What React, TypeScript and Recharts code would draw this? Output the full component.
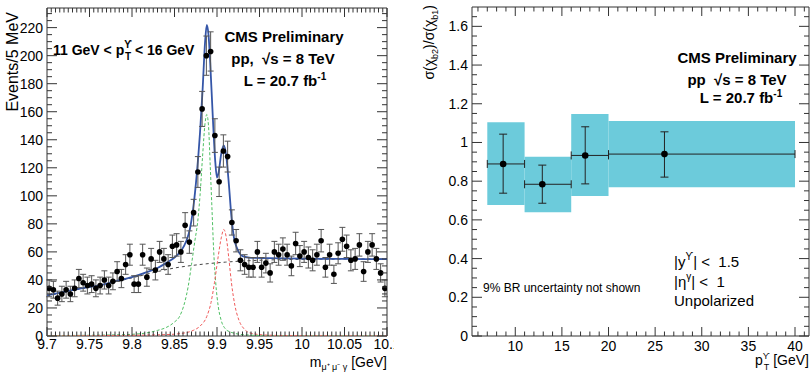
import { ComposedChart, ErrorBar, Line, ReferenceArea, Scatter, XAxis, YAxis } from 'recharts';

// ---- left panel: m(mu mu gamma) spectrum, 5 MeV bins ----
const massBins = [
  9.7025, 9.7075, 9.7125, 9.7175, 9.7225, 9.7275, 9.7325, 9.7375, 9.7425, 9.7475,
  9.7525, 9.7575, 9.7625, 9.7675, 9.7725, 9.7775, 9.7825, 9.7875, 9.7925, 9.7975,
  9.8025, 9.8075, 9.8125, 9.8175, 9.8225, 9.8275, 9.8325, 9.8375, 9.8425, 9.8475,
  9.8525, 9.8575, 9.8625, 9.8675, 9.8725, 9.8775, 9.8825, 9.8875, 9.8925, 9.8975,
  9.9025, 9.9075, 9.9125, 9.9175, 9.9225, 9.9275, 9.9325, 9.9375, 9.9425, 9.9475,
  9.9525, 9.9575, 9.9625, 9.9675, 9.9725, 9.9775, 9.9825, 9.9875, 9.9925, 9.9975,
  10.0025, 10.0075, 10.0125, 10.0175, 10.0225, 10.0275, 10.0325, 10.0375, 10.0425, 10.0475,
  10.0525, 10.0575, 10.0625, 10.0675, 10.0725, 10.0775, 10.0825, 10.0875, 10.0925, 10.0975,
];
const events = [
  34, 33, 27, 30, 33, 30, 34, 41, 38, 36,
  37, 34, 36, 40, 36, 39, 46, 41, 51, 58,
  37, 37, 58, 42, 55, 47, 60, 55, 51, 64,
  65, 60, 79, 67, 88, 117, 162, 200, 203, 143,
  110, 132, 128, 81, 68, 54, 51, 49, 49, 60,
  49, 52, 45, 60, 58, 62, 58, 50, 66, 57,
  60, 56, 54, 58, 68, 49, 58, 44, 59, 69,
  64, 54, 55, 65, 46, 60, 65, 55, 45, 34,
];
const eventsErr = [
  6, 6, 5, 5.5, 6, 5.5, 6, 6.5, 6, 6,
  6, 6, 6, 6.5, 6, 6, 7, 6.5, 7, 7.5,
  6, 6, 7.5, 6.5, 7.5, 7, 7.5, 7.5, 7, 8,
  8, 7.5, 9, 8, 9.5, 11, 12.5, 14, 14, 12,
  10.5, 11.5, 11, 9, 8, 7.5, 7, 7, 7, 7.5,
  7, 7, 6.5, 7.5, 7.5, 8, 7.5, 7, 8, 7.5,
  7.5, 7.5, 7.5, 7.5, 8, 7, 7.5, 6.5, 7.5, 8.5,
  8, 7.5, 7.5, 8, 7, 7.5, 8, 7.5, 6.5, 6,
];

// fit curves
const totalX = [9.7, 9.72, 9.74, 9.76, 9.78, 9.8, 9.815, 9.83, 9.84, 9.85, 9.858, 9.864, 9.868, 9.872, 9.876, 9.88, 9.883, 9.886, 9.888, 9.89, 9.892, 9.895, 9.898, 9.9, 9.902, 9.905, 9.908, 9.911, 9.914, 9.917, 9.92, 9.924, 9.93, 9.94, 9.96, 10.0, 10.05, 10.1];
const totalY = [29, 31.5, 34, 36, 39, 42, 45, 48.5, 52, 56, 61, 68, 76, 91, 114, 145, 175, 210, 222, 215, 195, 157, 124, 113, 117, 130, 136, 128, 108, 85, 70, 62, 57, 55.8, 55.5, 55.2, 55, 54.8];
const chib1X = [9.7, 9.78, 9.8, 9.82, 9.83, 9.84, 9.85, 9.856, 9.862, 9.866, 9.87, 9.874, 9.877, 9.88, 9.883, 9.886, 9.888, 9.89, 9.892, 9.894, 9.896, 9.8985, 9.9015, 9.905, 9.91, 9.915, 9.92, 9.93, 9.95, 10.0, 10.1];
const chib1Y = [0.3, 0.8, 1.2, 2.5, 4, 6, 10, 14, 24, 35, 51, 68, 80, 100, 128, 152, 158, 150, 122, 92, 62, 38, 21, 11, 5, 3, 2, 1, 0.4, 0.1, 0];
const chib2X = [9.7, 9.8, 9.84, 9.86, 9.872, 9.88, 9.888, 9.893, 9.897, 9.901, 9.905, 9.908, 9.911, 9.914, 9.917, 9.921, 9.926, 9.932, 9.94, 9.96, 10.0, 10.1];
const chib2Y = [0, 0.5, 1, 2, 4, 7, 14, 24, 38, 55, 70, 76, 70, 55, 38, 22, 11, 5, 2, 0.6, 0.2, 0];
const bkgX = [9.7, 9.73, 9.76, 9.79, 9.82, 9.85, 9.88, 9.91, 9.94, 9.98, 10.03, 10.1];
const bkgY = [28.5, 32.5, 36, 40, 44.5, 48.5, 51, 52.7, 53.8, 54.5, 54.8, 55];

const leftXMajor = [9.7, 9.75, 9.8, 9.85, 9.9, 9.95, 10, 10.05, 10.1];
const leftYMajor = [0, 20, 40, 60, 80, 100, 120, 140, 160, 180, 200, 220];

// ---- right panel: sigma(chi_b2)/sigma(chi_b1) vs pT ----
const ptLow = [7, 11, 16, 20];
const ptHigh = [11, 16, 20, 40];
const ptMean = [8.7, 12.9, 17.5, 26.0];
const ratio = [0.889, 0.784, 0.933, 0.94];
const statDown = [0.151, 0.098, 0.147, 0.119];
const statUp = [0.154, 0.099, 0.148, 0.115];
const systLow = [0.677, 0.639, 0.724, 0.769];
const systHigh = [1.104, 0.926, 1.147, 1.111];

const rightXMajor = [10, 15, 20, 25, 30, 35, 40];
const rightYMajor = [0, 0.2, 0.4, 0.6, 0.8, 1, 1.2, 1.4, 1.6];

const FONT = '"Liberation Sans", Arial, Helvetica, sans-serif';
const INK = '#333';
const CYAN = '#6ccbdb';
const NB = '\u00a0';

function steps(from: number, to: number, step: number) {
  const out: number[] = [];
  const n = Math.round((to - from) / step);
  for (let i = 0; i <= n; i++) out.push(Math.round((from + i * step) * 1e6) / 1e6);
  return out;
}

const isMajor = (majors: number[], v: number) => majors.some((m) => Math.abs(m - v) < 1e-7);

function xTick(majors: number[], plotH: number, dy: number) {
  return (p: any) => {
    const v = p.payload.value as number;
    const big = isMajor(majors, v);
    const len = big ? 9 : 4.5;
    return (
      <g>
        <line x1={p.x} x2={p.x} y1={p.y} y2={p.y - len} stroke={INK} />
        <line x1={p.x} x2={p.x} y1={p.y - plotH} y2={p.y - plotH + len} stroke={INK} />
        {big && (
          <text x={p.x} y={p.y + dy} textAnchor="middle" fontSize={14} fontFamily={FONT} fill="#000">
            {String(v)}
          </text>
        )}
      </g>
    );
  };
}

function yTick(majors: number[], plotW: number) {
  return (p: any) => {
    const v = p.payload.value as number;
    const big = isMajor(majors, v);
    const len = big ? 10 : 5;
    return (
      <g>
        <line x1={p.x} x2={p.x + len} y1={p.y} y2={p.y} stroke={INK} />
        <line x1={p.x + plotW} x2={p.x + plotW - len} y1={p.y} y2={p.y} stroke={INK} />
        {big && (
          <text x={p.x - 4} y={p.y + 5} textAnchor="end" fontSize={14} fontFamily={FONT} fill="#000">
            {String(v)}
          </text>
        )}
      </g>
    );
  };
}

const dot = (r: number) => (p: any) => <circle cx={p.cx} cy={p.cy} r={r} fill="#000" />;

function MassPanel() {
  const points = massBins.map((x, i) => ({ x, y: events[i], err: eventsErr[i] }));
  const curve = (xs: number[], ys: number[]) => xs.map((x, i) => ({ x, y: ys[i] }));
  const xTicks = steps(9.7, 10.1, 0.005);
  const yTicks = steps(0, 230, 5);
  return (
    <ComposedChart width={400} height={373} margin={{ top: 8, right: 13, bottom: 0, left: 0 }}>
      <XAxis
        xAxisId="b"
        type="number"
        dataKey="x"
        domain={[9.7, 10.1]}
        allowDataOverflow
        ticks={xTicks}
        interval={0}
        height={37}
        tickSize={0}
        tickMargin={0}
        tickLine={false}
        axisLine={false}
        tick={xTick(leftXMajor, 328, 13)}
      />
      <YAxis
        yAxisId="l"
        type="number"
        domain={[0, 234]}
        allowDataOverflow
        ticks={yTicks}
        interval={0}
        width={47}
        tickSize={0}
        tickMargin={0}
        tickLine={false}
        axisLine={false}
        tick={yTick(leftYMajor, 340)}
      />
      <Line xAxisId="b" yAxisId="l" data={curve(bkgX, bkgY)} dataKey="y" type="monotone" stroke="#444" strokeWidth={1} strokeDasharray="3 3" dot={false} isAnimationActive={false} />
      <Line xAxisId="b" yAxisId="l" data={curve(chib1X, chib1Y)} dataKey="y" type="monotone" stroke="#4fbf63" strokeWidth={1} strokeDasharray="3 2" dot={false} isAnimationActive={false} />
      <Line xAxisId="b" yAxisId="l" data={curve(chib2X, chib2Y)} dataKey="y" type="monotone" stroke="#f05a5a" strokeWidth={1} strokeDasharray="3 2" dot={false} isAnimationActive={false} />
      <Line xAxisId="b" yAxisId="l" data={curve(totalX, totalY)} dataKey="y" type="monotone" stroke="#3556a8" strokeWidth={1.8} dot={false} isAnimationActive={false} />
      <Scatter xAxisId="b" yAxisId="l" data={points} dataKey="y" shape={dot(2.8)} isAnimationActive={false}>
        <ErrorBar dataKey="err" direction="y" width={3} stroke="#555" strokeWidth={1} />
      </Scatter>
      <ReferenceArea xAxisId="b" yAxisId="l" x1={9.7} x2={10.1} y1={0} y2={234} fill="none" stroke={INK} strokeWidth={1} ifOverflow="visible" />
    </ComposedChart>
  );
}

function RatioPanel() {
  const points = ptMean.map((x, i) => ({
    x,
    y: ratio[i],
    ey: [statDown[i], statUp[i]],
    ex: [x - ptLow[i], ptHigh[i] - x],
  }));
  const xTicks = steps(6, 41, 1);
  const yTicks = steps(0, 1.65, 0.05);
  return (
    <ComposedChart width={411} height={373} margin={{ top: 7, right: 2, bottom: 0, left: 0 }}>
      <XAxis
        xAxisId="b"
        type="number"
        dataKey="x"
        domain={[5.36, 41.5]}
        allowDataOverflow
        ticks={xTicks}
        interval={0}
        height={37}
        tickSize={0}
        tickMargin={0}
        tickLine={false}
        axisLine={false}
        tick={xTick(rightXMajor, 329, 15)}
      />
      <YAxis
        yAxisId="l"
        type="number"
        domain={[0, 1.7]}
        allowDataOverflow
        ticks={yTicks}
        interval={0}
        width={72}
        tickSize={0}
        tickMargin={0}
        tickLine={false}
        axisLine={false}
        tick={yTick(rightYMajor, 337)}
      />
      {ptLow.map((lo, i) => (
        <ReferenceArea key={i} xAxisId="b" yAxisId="l" x1={lo} x2={ptHigh[i]} y1={systLow[i]} y2={systHigh[i]} fill={CYAN} fillOpacity={1} stroke="none" />
      ))}
      <Scatter xAxisId="b" yAxisId="l" data={points} dataKey="y" shape={dot(3.3)} isAnimationActive={false}>
        <ErrorBar dataKey="ey" direction="y" width={4} stroke="#222" strokeWidth={1} />
        <ErrorBar dataKey="ex" direction="x" width={4} stroke="#222" strokeWidth={1} />
      </Scatter>
      <ReferenceArea xAxisId="b" yAxisId="l" x1={5.36} x2={41.5} y1={0} y2={1.7} fill="none" stroke={INK} strokeWidth={1} ifOverflow="visible" />
    </ComposedChart>
  );
}

function Labels() {
  const bold = { fontFamily: FONT, fontWeight: 700, fill: '#000' } as const;
  const reg = { fontFamily: FONT, fill: '#000' } as const;
  return (
    <svg width={811} height={373} style={{ position: 'absolute', left: 0, top: 0, pointerEvents: 'none' }}>
      {/* left panel */}
      <text transform="translate(18, 12) rotate(-90)" textAnchor="end" fontSize={16} {...reg}>Events/5 MeV</text>
      <text x={387} y={367} textAnchor="end" fontSize={14} {...reg}>
        m<tspan fontSize={9} dy={3}>μ⁺ μ⁻ γ</tspan><tspan dy={-3}> [GeV]</tspan>
      </text>
      <text x={53} y={55} fontSize={14} {...bold}>
        11 GeV &lt; p<tspan fontSize={10} dy={-7}>ϒ</tspan><tspan fontSize={10} dx={-7} dy={12}>T</tspan><tspan dy={-5}> &lt; 16 GeV</tspan>
      </text>
      <text x={284} y={42} textAnchor="middle" fontSize={15} {...bold}>CMS Preliminary</text>
      <text x={283} y={64} textAnchor="middle" fontSize={15} {...bold}>{`pp,${NB}${NB}√s = 8 TeV`}</text>
      <text x={285} y={86} textAnchor="middle" fontSize={15} {...bold}>
        L = 20.7 fb<tspan fontSize={10} dy={-6}>-1</tspan>
      </text>

      {/* right panel */}
      <text transform="translate(434, 5) rotate(-90)" textAnchor="end" fontSize={14} {...reg}>
        σ(χ<tspan fontSize={9} dy={4}>b2</tspan><tspan dy={-4}>)/σ(χ</tspan><tspan fontSize={9} dy={4}>b1</tspan><tspan dy={-4}>)</tspan>
      </text>
      <text x={809} y={365} textAnchor="end" fontSize={14} {...reg}>
        p<tspan fontSize={9} dy={-6}>ϒ</tspan><tspan fontSize={9} dx={-6} dy={11}>T</tspan><tspan dy={-5}> [GeV]</tspan>
      </text>
      <text x={737} y={63} textAnchor="middle" fontSize={15} {...bold}>CMS Preliminary</text>
      <text x={737} y={85} textAnchor="middle" fontSize={15} {...bold}>{`pp${NB}${NB}√s = 8 TeV`}</text>
      <text x={741} y={103} textAnchor="middle" fontSize={15} {...bold}>
        L = 20.7 fb<tspan fontSize={10} dy={-6}>-1</tspan>
      </text>
      <text x={483} y={292} fontSize={12} {...reg}>9% BR uncertainty not shown</text>
      <text x={674} y={267} fontSize={15} {...reg}>
        |y<tspan fontSize={10} dy={-7}>ϒ</tspan><tspan dy={7}>{`| <${NB}${NB}1.5`}</tspan>
      </text>
      <text x={674} y={287} fontSize={15} {...reg}>
        |η<tspan fontSize={10} dy={-7}>γ</tspan><tspan dy={7}>{`| <${NB}${NB}1`}</tspan>
      </text>
      <text x={674} y={306} fontSize={15} {...reg}>Unpolarized</text>
    </svg>
  );
}

export default function App() {
  return (
    <div style={{ position: 'fixed', left: 0, top: 0, width: 811, height: 373, background: '#fff', overflow: 'hidden' }}>
      <div style={{ position: 'absolute', left: 0, top: 0, width: 394, height: 373, overflow: 'hidden' }}>
        <MassPanel />
      </div>
      <div style={{ position: 'absolute', left: 400, top: 0, width: 411, height: 373 }}>
        <RatioPanel />
      </div>
      <Labels />
    </div>
  );
}
